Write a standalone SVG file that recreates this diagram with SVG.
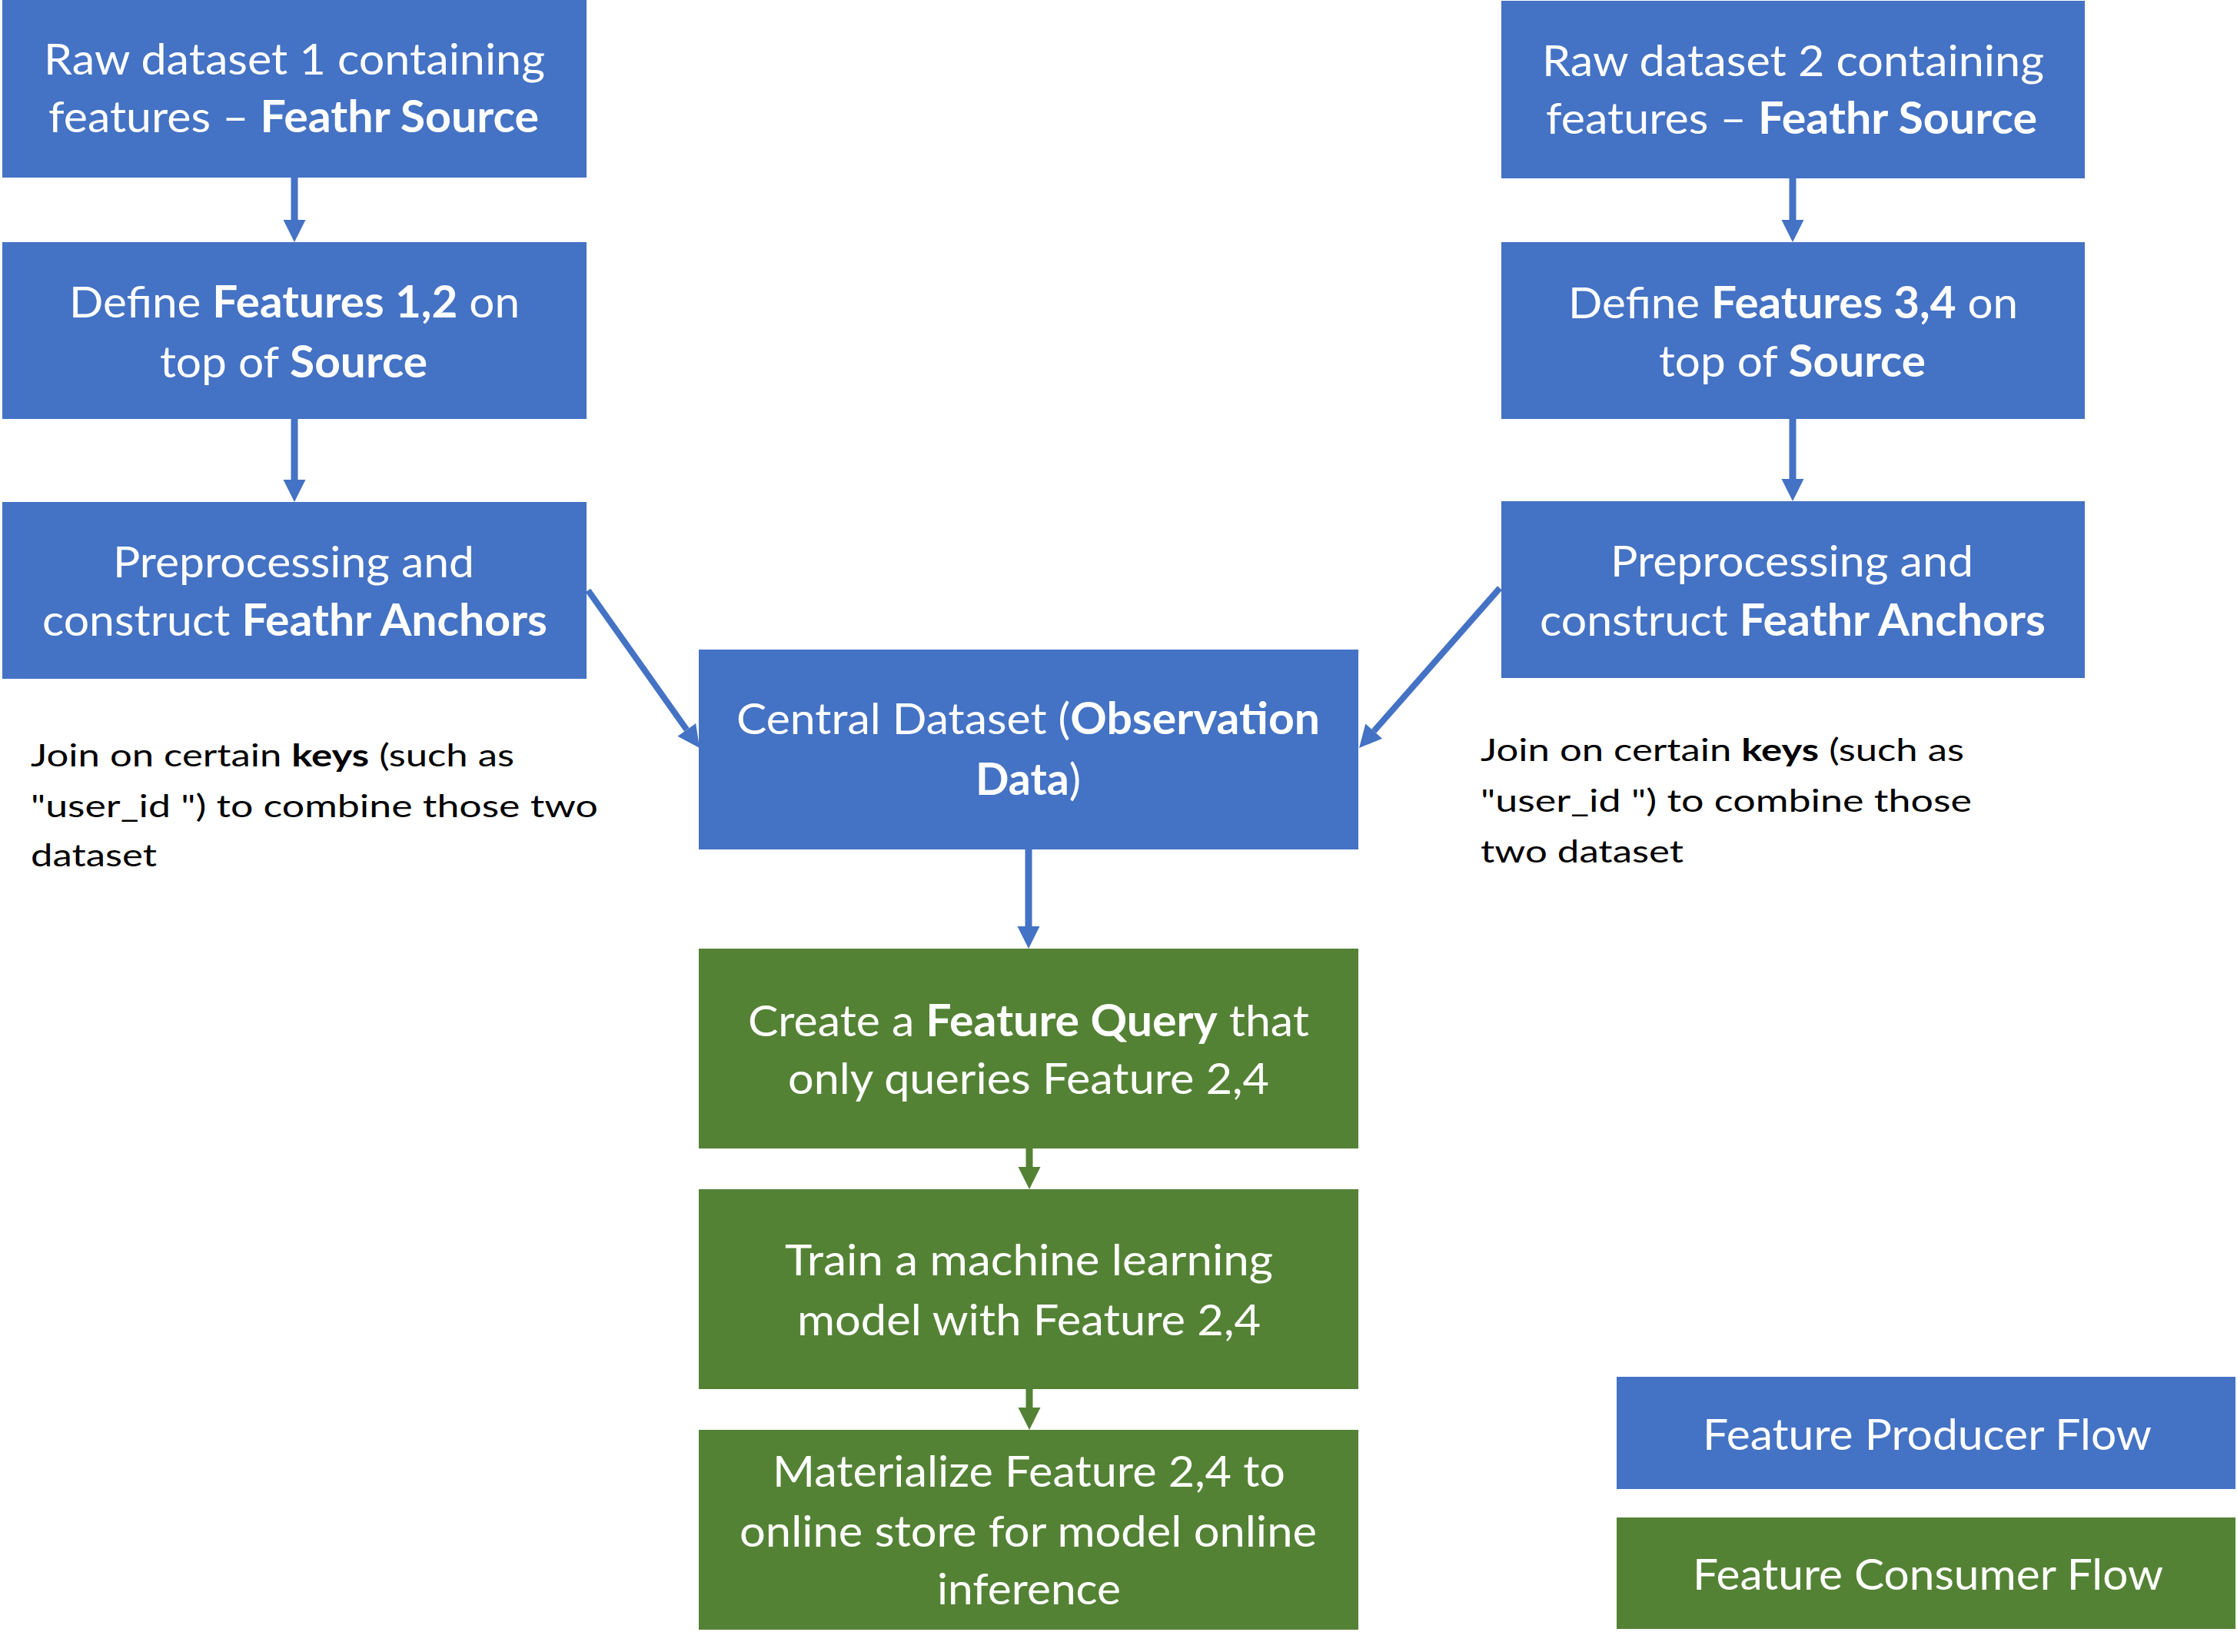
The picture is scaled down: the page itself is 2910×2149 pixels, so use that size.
<svg xmlns="http://www.w3.org/2000/svg" width="2910" height="2149" viewBox="0 0 2910 2149">
<style>
.blue{fill:#4472C4}
.green{fill:#548235}
.bt{font-family:Lato,"Open Sans","Liberation Sans",sans-serif;font-size:57px;fill:#FFFFFF;text-anchor:middle}
.jt{font-family:Lato,"Open Sans","Liberation Sans",sans-serif;font-size:41px;fill:#000000}
.b{font-weight:bold}
.cb{stroke:#4472C4;stroke-width:9;fill:none}
.cg{stroke:#548235;stroke-width:9;fill:none}
.cd{stroke:#4472C4;stroke-width:8;fill:none}
</style>
<defs>
<marker id="ahb" markerUnits="userSpaceOnUse" markerWidth="30" markerHeight="30" refX="0" refY="14.5" orient="auto" overflow="visible"><path d="M0,0 L29,14.5 L0,29 Z" fill="#4472C4"/></marker>
<marker id="ahg" markerUnits="userSpaceOnUse" markerWidth="30" markerHeight="30" refX="0" refY="14.5" orient="auto" overflow="visible"><path d="M0,0 L29,14.5 L0,29 Z" fill="#548235"/></marker>
</defs>
<rect width="2910" height="2149" fill="#FFFFFF"/>

<g id="connectors">
<line class="cb" x1="383" y1="231" x2="383" y2="286" marker-end="url(#ahb)"/>
<line class="cb" x1="383" y1="545" x2="383" y2="624" marker-end="url(#ahb)"/>
<line class="cb" x1="2332" y1="232" x2="2332" y2="286" marker-end="url(#ahb)"/>
<line class="cb" x1="2332" y1="545" x2="2332" y2="623" marker-end="url(#ahb)"/>
<line class="cd" x1="765" y1="768" x2="893.3" y2="949.3" marker-end="url(#ahb)"/>
<line class="cd" x1="1951" y1="765" x2="1787.2" y2="951.2" marker-end="url(#ahb)"/>
<line class="cb" x1="1338" y1="1105" x2="1338" y2="1205" marker-end="url(#ahb)"/>
<line class="cg" x1="1339" y1="1494" x2="1339" y2="1518" marker-end="url(#ahg)"/>
<line class="cg" x1="1339" y1="1807" x2="1339" y2="1831" marker-end="url(#ahg)"/>
</g>

<g id="raw1">
<rect class="blue" x="3" y="0" width="760" height="231"/>
<text class="bt" x="383" y="97" textLength="652" lengthAdjust="spacingAndGlyphs">Raw dataset 1 containing</text>
<text class="bt" x="382" y="172" textLength="638" lengthAdjust="spacingAndGlyphs">features – <tspan class="b">Feathr Source</tspan></text>
</g>

<g id="define12">
<rect class="blue" x="3" y="315" width="760" height="230"/>
<text class="bt" x="383" y="413" textLength="586" lengthAdjust="spacingAndGlyphs">Define <tspan class="b">Features 1,2</tspan> on</text>
<text class="bt" x="382" y="491" textLength="348" lengthAdjust="spacingAndGlyphs">top of <tspan class="b">Source</tspan></text>
</g>

<g id="anchors1">
<rect class="blue" x="3" y="653" width="760" height="230"/>
<text class="bt" x="382" y="751" textLength="470" lengthAdjust="spacingAndGlyphs">Preprocessing and</text>
<text class="bt" x="383.5" y="827" textLength="657" lengthAdjust="spacingAndGlyphs">construct <tspan class="b">Feathr Anchors</tspan></text>
</g>

<g id="join1">
<text class="jt" x="40" y="997" textLength="629" lengthAdjust="spacingAndGlyphs">Join on certain <tspan class="b">keys</tspan> (such as</text>
<text class="jt" x="40" y="1063" textLength="738" lengthAdjust="spacingAndGlyphs">"user_id ") to combine those two</text>
<text class="jt" x="40" y="1127" textLength="164" lengthAdjust="spacingAndGlyphs">dataset</text>
</g>

<g id="raw2">
<rect class="blue" x="1953" y="1" width="759" height="231"/>
<text class="bt" x="2332.5" y="99" textLength="653" lengthAdjust="spacingAndGlyphs">Raw dataset 2 containing</text>
<text class="bt" x="2330.5" y="174" textLength="639" lengthAdjust="spacingAndGlyphs">features – <tspan class="b">Feathr Source</tspan></text>
</g>

<g id="define34">
<rect class="blue" x="1953" y="315" width="759" height="230"/>
<text class="bt" x="2332.5" y="414" textLength="585" lengthAdjust="spacingAndGlyphs">Define <tspan class="b">Features 3,4</tspan> on</text>
<text class="bt" x="2331.5" y="490" textLength="347" lengthAdjust="spacingAndGlyphs">top of <tspan class="b">Source</tspan></text>
</g>

<g id="anchors2">
<rect class="blue" x="1953" y="652" width="759" height="230"/>
<text class="bt" x="2331" y="750" textLength="472" lengthAdjust="spacingAndGlyphs">Preprocessing and</text>
<text class="bt" x="2332" y="827" textLength="658" lengthAdjust="spacingAndGlyphs">construct <tspan class="b">Feathr Anchors</tspan></text>
</g>

<g id="join2">
<text class="jt" x="1926" y="990" textLength="629" lengthAdjust="spacingAndGlyphs">Join on certain <tspan class="b">keys</tspan> (such as</text>
<text class="jt" x="1926" y="1056" textLength="639" lengthAdjust="spacingAndGlyphs">"user_id ") to combine those</text>
<text class="jt" x="1926" y="1122" textLength="264" lengthAdjust="spacingAndGlyphs">two dataset</text>
</g>

<g id="central">
<rect class="blue" x="909" y="845" width="858" height="260"/>
<text class="bt" x="1337.5" y="955" textLength="759" lengthAdjust="spacingAndGlyphs">Central Dataset (<tspan class="b">Observation</tspan></text>
<text class="bt" x="1337.5" y="1034" textLength="137" lengthAdjust="spacingAndGlyphs"><tspan class="b">Data</tspan>)</text>
</g>

<g id="query">
<rect class="green" x="909" y="1234" width="858" height="260"/>
<text class="bt" x="1338" y="1348" textLength="730" lengthAdjust="spacingAndGlyphs">Create a <tspan class="b">Feature Query</tspan> that</text>
<text class="bt" x="1338" y="1423" textLength="626" lengthAdjust="spacingAndGlyphs">only queries Feature 2,4</text>
</g>

<g id="train">
<rect class="green" x="909" y="1547" width="858" height="260"/>
<text class="bt" x="1338.5" y="1659" textLength="635" lengthAdjust="spacingAndGlyphs">Train a machine learning</text>
<text class="bt" x="1338.5" y="1737" textLength="603" lengthAdjust="spacingAndGlyphs">model with Feature 2,4</text>
</g>

<g id="materialize">
<rect class="green" x="909" y="1860" width="858" height="260"/>
<text class="bt" x="1338.5" y="1934" textLength="667" lengthAdjust="spacingAndGlyphs">Materialize Feature 2,4 to</text>
<text class="bt" x="1337.5" y="2012" textLength="751" lengthAdjust="spacingAndGlyphs">online store for model online</text>
<text class="bt" x="1338.5" y="2087" textLength="239" lengthAdjust="spacingAndGlyphs">inference</text>
</g>

<g id="legend-producer">
<rect class="blue" x="2103" y="1791" width="805" height="146"/>
<text class="bt" x="2507" y="1886" textLength="584" lengthAdjust="spacingAndGlyphs">Feature Producer Flow</text>
</g>

<g id="legend-consumer">
<rect class="green" x="2103" y="1974" width="805" height="145"/>
<text class="bt" x="2508" y="2068" textLength="612" lengthAdjust="spacingAndGlyphs">Feature Consumer Flow</text>
</g>
</svg>
